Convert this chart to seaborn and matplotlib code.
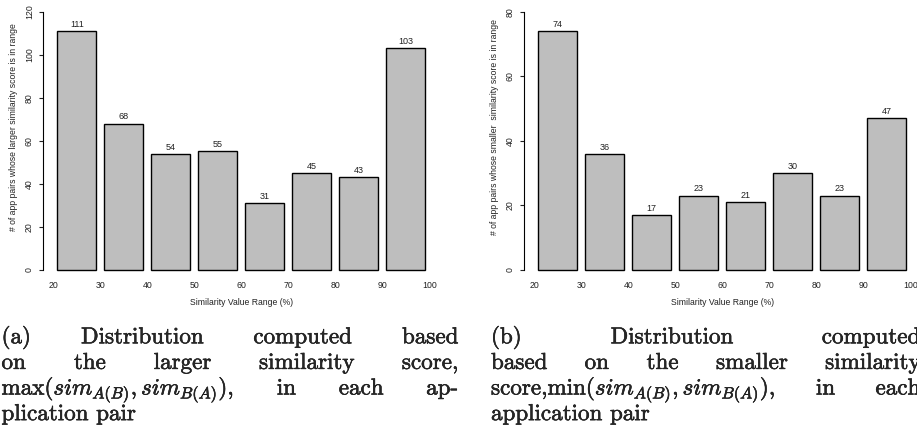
import numpy as np
import pandas as pd
import matplotlib
matplotlib.use("Agg")
import matplotlib.pyplot as plt
import matplotlib.patheffects as pe
import seaborn as sns

# ---- data ----
bin_edges = [20, 30, 40, 50, 60, 70, 80, 90, 100]
bins = ["20-30", "30-40", "40-50", "50-60", "60-70", "70-80", "80-90", "90-100"]
larger_counts = [111, 68, 54, 55, 31, 45, 43, 103]
smaller_counts = [74, 36, 17, 23, 21, 30, 23, 47]
larger_yticks = [0, 20, 40, 60, 80, 100, 120]
smaller_yticks = [0, 20, 40, 60, 80]
xlabel = "Similarity Value Range (%)"
ylabel_a = "# of app pairs whose larger similarity score is in range"
ylabel_b = "# of app pairs whose smaller  similarity score is in range"

cap_a = [
    ["(a)", "Distribution", "computed", "based"],
    ["on", "the", "larger", "similarity", "score,"],
    [r"max$(sim_{A(B)},sim_{B(A)}),$", "in", "each", "ap-"],
    ["plication pair"],
]
cap_b = [
    ["(b)", "Distribution", "computed"],
    ["based", "on", "the", "smaller", "similarity"],
    [r"score,min$(sim_{A(B)},sim_{B(A)}),$", "in", "each"],
    ["application pair"],
]

sns.set_style("white")
plt.rcParams["font.family"] = ["Liberation Sans", "DejaVu Sans"]
plt.rcParams["mathtext.fontset"] = "cm"

W, H = 917, 437
fig = plt.figure(figsize=(W / 100, H / 100), dpi=100)


def px_axes(left, right, top, bottom):
    return fig.add_axes([left / W, 1 - bottom / H, (right - left) / W, (bottom - top) / H])


def draw_panel(ax, counts, yticks, ylab):
    df = pd.DataFrame({"bin": bins, "count": counts})
    sns.barplot(data=df, x="bin", y="count", color="#BEBEBE", edgecolor="black",
                linewidth=1.0, width=1 / 1.2, saturation=1, ax=ax)
    ymax = yticks[-1]
    ax.set_xlim(-0.73, 7.73)
    ax.set_ylim(-0.04 * ymax, 1.04 * ymax)
    ax.set_xticks(np.arange(len(bin_edges)) - 0.5)
    ax.set_xticklabels([str(e) for e in bin_edges])
    ax.set_yticks(yticks)
    ax.set_yticklabels([str(t) for t in yticks])
    for s in ["top", "right", "bottom"]:
        ax.spines[s].set_visible(False)
    ax.spines["left"].set_bounds(0, ymax)
    ax.spines["left"].set_color("black")
    ax.spines["left"].set_linewidth(0.8)
    ax.tick_params(axis="x", length=0, pad=0.5, labelsize=6.3, colors="#222222")
    ax.tick_params(axis="y", length=3.2, width=0.8, direction="out", pad=3,
                   labelsize=6.3, labelrotation=90, colors="#222222", left=True)
    for lab in ax.get_yticklabels():
        lab.set_va("center")
    ax.set_xlabel(xlabel, fontsize=6.2, labelpad=6, color="#222222")
    ax.set_ylabel(ylab, fontsize=6.2, color="#222222")
    ax.yaxis.set_label_coords(-0.062, 0.548)
    ax.bar_label(ax.containers[0], padding=1.5, fontsize=6.5, color="#222222")
    ax.patch.set_alpha(0)


ax1 = px_axes(42.5, 440, 1.4, 280)
draw_panel(ax1, larger_counts, larger_yticks, ylabel_a)
ax2 = px_axes(523.5, 921, 1.4, 280)
draw_panel(ax2, smaller_counts, smaller_yticks, ylabel_b)

# ---- captions (justified) ----
renderer = fig.canvas.get_renderer()
CAP_FS = 16.6
stroke = [pe.withStroke(linewidth=0.35, foreground="black")]


def caption(lines, x0, x1, base0, step):
    for i, words in enumerate(lines):
        yb = base0 + i * step
        texts = [fig.text(0, 0, w, fontsize=CAP_FS, family="cmr10", va="baseline",
                          ha="left", path_effects=stroke)
                 for w in words]
        widths = [t.get_window_extent(renderer).width for t in texts]
        if i == len(lines) - 1 or len(words) == 1:
            gap = 7.5
        else:
            gap = (x1 - x0 - sum(widths)) / (len(words) - 1)
        x = x0
        for t, w in zip(texts, widths):
            t.set_position((x / W, 1 - yb / H))
            x += w + gap


caption(cap_a, 1.5, 458, 343.3, 25.6)
caption(cap_b, 491, 920, 343.3, 25.6)

fig.savefig("out.png", dpi=100)
